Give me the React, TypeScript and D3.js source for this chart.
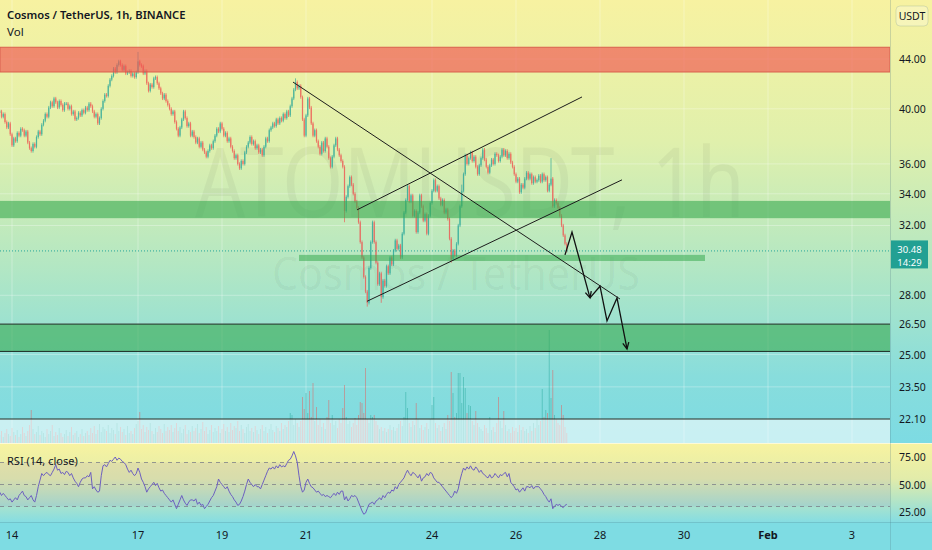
import * as d3 from "d3";

// hourly closes, first bar 2022-01-13 17:00 UTC
const closes = [
  39.8, 39.4, 39.6, 39.0, 38.6, 38.9, 38.1, 37.3, 37.8, 37.6, 38.2, 38.0, 38.5, 38.4, 38.0, 38.3, 37.5, 37.1, 36.9,
  37.4, 37.2, 37.9, 38.3, 38.1, 38.8, 39.1, 39.6, 39.4, 40.1, 40.5, 40.2, 40.8, 40.5, 40.1, 40.6, 40.3, 39.9, 40.4,
  40.4, 40.0, 40.2, 39.6, 39.8, 39.2, 39.3, 39.7, 39.5, 39.9, 39.7, 40.1, 39.9, 40.4, 40.2, 39.8, 39.4, 39.6, 38.9,
  39.3, 40.0, 40.6, 41.1, 41.0, 41.8, 42.3, 42.6, 43.2, 42.9, 43.5, 43.8, 43.5, 43.1, 43.4, 42.8, 42.9, 43.0, 42.6,
  42.8, 42.5, 42.9, 43.8, 43.5, 43.4, 42.8, 43.0, 42.0, 41.4, 41.9, 41.7, 42.4, 42.5, 42.0, 41.6, 41.2, 40.8, 41.1,
  40.6, 40.3, 40.0, 39.6, 39.8, 39.0, 38.5, 38.0, 38.6, 39.2, 39.8, 39.3, 38.7, 38.9, 38.0, 38.3, 37.9, 37.5, 37.8,
  37.2, 37.5, 37.0, 36.8, 36.5, 36.9, 37.3, 37.1, 37.6, 38.0, 38.5, 38.3, 38.9, 38.5, 38.0, 38.2, 37.6, 37.8, 37.2,
  36.9, 36.4, 36.6, 36.0, 35.7, 36.2, 36.0, 36.8, 37.2, 37.5, 37.9, 37.4, 37.6, 37.1, 37.3, 36.8, 37.0, 36.6, 37.2,
  37.8, 37.6, 38.4, 38.6, 38.9, 38.7, 39.2, 38.9, 39.3, 39.1, 39.6, 39.3, 39.8, 39.5, 40.2, 40.8, 41.5, 42.1, 41.6,
  41.8, 40.9, 39.2, 38.0, 39.5, 40.8, 40.1, 38.9, 38.0, 38.4, 37.6, 37.2, 36.7, 37.5, 36.9, 37.8, 37.2, 36.4, 35.8,
  36.5, 37.3, 37.8, 37.0, 36.6, 36.2, 35.8, 32.9, 33.8, 34.5, 35.1, 34.6, 34.0, 33.5, 33.1, 32.2, 31.0, 30.1, 29.0,
  28.2, 27.6, 29.5, 31.0, 32.2, 31.0, 29.8, 28.6, 29.2, 27.9, 28.8, 28.5, 29.6, 29.2, 30.1, 29.7, 30.5, 31.1, 30.6,
  30.8, 30.1, 31.5, 32.8, 33.6, 34.5, 33.5, 33.9, 32.6, 32.9, 31.6, 32.8, 33.9, 33.2, 32.3, 32.7, 31.5, 32.6, 33.4,
  34.2, 34.9, 34.2, 34.5, 33.7, 33.3, 33.6, 32.8, 33.0, 32.4, 31.2, 30.0, 30.5, 30.2, 30.9, 32.0, 33.2, 34.2, 35.3,
  36.6, 36.0, 36.4, 36.8, 36.2, 36.5, 35.8, 35.3, 35.9, 36.4, 37.0, 36.3, 35.8, 35.4, 35.9, 36.3, 36.0, 36.7, 36.6,
  36.2, 36.5, 37.0, 36.6, 36.9, 36.4, 36.7, 36.1, 35.8, 35.3, 34.8, 35.0, 34.1, 34.6, 34.4, 35.0, 35.4, 35.0, 35.3,
  34.7, 35.1, 34.8, 34.9, 35.2, 34.8, 35.3, 34.9, 35.1, 34.2, 34.6, 35.0, 33.2, 33.6, 33.4, 33.1, 32.6, 32.0, 31.4,
  30.9, 30.48,
];

// notable wicks beyond the bodies
const wickHighs = [
  { i: 79, price: 44.6 },
  { i: 169, price: 42.4 },
  { i: 264, price: 34.6 },
  { i: 315, price: 36.4 },
];
const wickLows = [
  { i: 197, price: 32.2 },
  { i: 210, price: 27.4 },
  { i: 218, price: 27.6 },
  { i: 258, price: 29.8 },
];

const volumes = [
  8, 12, 6, 10, 14, 9, 7, 15, 11, 8, 13, 6, 9, 16, 10, 7, 12, 18, 33, 14, 9, 11, 17, 8, 12,
  10, 6, 14, 9, 12, 18, 7, 11, 8, 15, 10, 6, 9, 13, 7, 11, 16, 8, 10, 12, 6, 9, 14, 7, 10,
  12, 8, 15, 10, 17, 9, 13, 19, 11, 16, 14, 12, 18, 10, 15, 13, 9, 20, 12, 16, 11, 14, 8, 17, 10,
  12, 9, 15, 19, 22, 31, 14, 18, 11, 16, 13, 20, 12, 9, 15, 11, 17, 14, 10, 19, 12, 16, 13, 18, 11,
  15, 20, 12, 16, 10, 14, 18, 9, 13, 11, 17, 12, 15, 19, 10, 14, 21, 12, 16, 9, 13, 18, 11, 15, 12,
  17, 10, 14, 19, 12, 16, 11, 20, 13, 17, 15, 22, 12, 18, 14, 10, 16, 19, 12, 15, 11, 17, 13, 9, 14,
  18, 12, 16, 10, 14, 19, 13, 11, 17, 15, 12, 20, 14, 18, 16, 22, 30, 28, 18, 24, 20, 16, 22, 46, 34,
  50, 30, 52, 26, 60, 22, 36, 18, 24, 16, 20, 14, 26, 43, 20, 28, 18, 22, 15, 24, 20, 35, 58, 26, 19,
  22, 16, 20, 25, 18, 28, 41, 40, 30, 75, 24, 20, 28, 26, 28, 22, 18, 14, 16, 12, 15, 11, 14, 18, 13,
  16, 12, 15, 19, 22, 17, 26, 51, 35, 20, 16, 22, 18, 40, 24, 15, 18, 13, 16, 20, 14, 24, 38, 46, 20,
  15, 18, 12, 16, 20, 14, 28, 22, 71, 50, 26, 30, 70, 70, 40, 66, 55, 30, 38, 37, 22, 18, 32, 20, 16,
  14, 12, 18, 15, 10, 26, 13, 16, 11, 20, 46, 22, 15, 32, 18, 12, 14, 10, 16, 12, 15, 11, 18, 13, 16,
  12, 14, 10, 17, 12, 20, 15, 24, 18, 22, 54, 26, 33, 30, 113, 45, 73, 28, 24, 20, 18, 38, 28, 16, 10,
];

const rsiValues = [
  43, 40, 42, 40, 38, 36, 37, 34, 36, 38, 36, 40, 42, 44, 40, 39, 36, 38, 40, 36, 34, 40, 48, 54, 60,
  58, 60, 61, 59, 58, 61, 64, 68, 63, 64, 60, 61, 59, 62, 61, 58, 60, 56, 53, 51, 48, 52, 55, 56, 56,
  58, 57, 61, 46, 48, 45, 43, 44, 58, 67, 68, 66, 69, 72, 71, 73, 75, 72, 74, 73, 71, 70, 68, 64, 61,
  63, 60, 58, 60, 65, 61, 55, 52, 48, 43, 46, 48, 50, 52, 49, 51, 47, 44, 45, 42, 40, 38, 36, 34, 36,
  32, 28, 32, 36, 40, 36, 33, 31, 34, 36, 36, 35, 37, 32, 34, 31, 32, 28, 30, 32, 35, 38, 40, 44, 48,
  55, 52, 50, 48, 46, 48, 44, 41, 39, 36, 34, 31, 32, 35, 39, 44, 50, 55, 52, 50, 48, 50, 48, 48, 46,
  50, 54, 58, 62, 65, 64, 66, 64, 67, 65, 68, 66, 67, 66, 69, 72, 73, 76, 80, 76, 70, 58, 48, 43, 45,
  52, 55, 51, 48, 47, 45, 43, 44, 42, 40, 41, 39, 40, 39, 38, 40, 42, 40, 43, 41, 44, 44, 36, 39, 35,
  37, 40, 39, 40, 38, 34, 30, 26, 23, 24, 28, 32, 33, 34, 32, 35, 36, 38, 36, 40, 38, 41, 43, 42, 45,
  44, 48, 46, 50, 52, 54, 56, 60, 63, 60, 58, 61, 60, 58, 56, 59, 53, 56, 57, 60, 58, 61, 60, 56, 54,
  52, 52, 50, 48, 46, 44, 42, 40, 38, 40, 44, 42, 46, 54, 60, 65, 63, 66, 64, 67, 64, 63, 66, 64, 61,
  63, 60, 59, 57, 56, 59, 56, 57, 60, 58, 56, 59, 58, 60, 61, 57, 60, 52, 50, 48, 45, 46, 43, 45, 47,
  44, 48, 48, 47, 49, 46, 48, 48, 48, 46, 44, 41, 39, 36, 34, 37, 28, 30, 32, 31, 32, 30, 29, 31, 32,
];

const priceTicks = [44, 40, 36, 34, 32, 28, 26.5, 25, 23.5, 22.1];
const rsiTicks = [75, 50, 25];
const rsiBands = [70, 50, 30];
const timeTicks = ["2022-01-14", "2022-01-17", "2022-01-19", "2022-01-21", "2022-01-24", "2022-01-26", "2022-01-28", "2022-01-30", "2022-02-01", "2022-02-03"];
const timeLabels = ["14", "17", "19", "21", "24", "26", "28", "30", "Feb", "3"];

const lastPrice = 30.48;
const countdown = "14:29";

// drawings (time, price)
const trendLines = [
  [["2022-01-20T16:34Z", 42.1], ["2022-01-28T11:26Z", 27.8]],
  [["2022-01-22T05:09Z", 32.97], ["2022-01-27T13:43Z", 40.92]],
  [["2022-01-22T10:51Z", 27.68], ["2022-01-28T12:34Z", 34.92]],
];
const arrowPaths = [
  [["2022-01-27T04:00Z", 30.25], ["2022-01-27T08:00Z", 31.6], ["2022-01-27T18:17Z", 27.86]],
  [["2022-01-27T18:17Z", 27.86], ["2022-01-28T00:00Z", 28.49], ["2022-01-28T04:00Z", 26.66], ["2022-01-28T09:43Z", 27.86], ["2022-01-28T15:26Z", 25.27]],
];
const levelLines = [26.5, 25.15, 22.1];
const redZone = [42.92, 45.0];
const greenZone = [32.45, 33.54];
const supportZone = [25.15, 26.5];
const thinZone = { from: "2022-01-20T20:00Z", to: "2022-01-30T12:00Z", low: 29.9, high: 30.25 };

const W = 932;
const H = 550;
const AXIS_X = 890;
const MAIN_BOTTOM = 443;
const RSI_BOTTOM = 522;
const FONT = "'Noto Sans', sans-serif";
const FIRST_BAR = Date.UTC(2022, 0, 13, 17);
const HOUR = 3600 * 1000;
const UP = "#26a69a";
const DOWN = "#ef5350";
const WICK = 1.6;

const x = d3.scaleUtc().domain([new Date("2022-01-14T00:00Z"), new Date("2022-02-03T00:00Z")]).range([12, 852]);
const y = d3.scaleLog().domain([22.1, 44]).range([419, 59]);
const yVol = d3.scaleLinear().domain([0, 113]).range([MAIN_BOTTOM, 330]);
const yRsi = d3.scaleLinear().domain([0, 100]).range([539.5, 429.5]);

const barTime = (i: number) => new Date(FIRST_BAR + i * HOUR);
const pt = (p: (string | number)[]) => [x(new Date(p[0] as string)), y(p[1] as number)] as [number, number];

function arrowHead(a: [number, number], b: [number, number]) {
  const ang = Math.atan2(b[1] - a[1], b[0] - a[0]);
  const len = 7;
  const s = (d: number) => [b[0] - len * Math.cos(ang + d), b[1] - len * Math.sin(ang + d)];
  const l = s(0.45);
  const r = s(-0.45);
  return `M${l[0]},${l[1]}L${b[0]},${b[1]}L${r[0]},${r[1]}`;
}

export default function App() {
  const rsiLine = d3
    .line<number>()
    .x((_, i) => x(barTime(i)))
    .y((v) => yRsi(v))(rsiValues) ?? "";
  const curY = y(lastPrice);

  return (
    <svg width={W} height={H} style={{ position: "fixed", left: 0, top: 0, fontFamily: FONT }}>
      <defs>
        <linearGradient id="mainBg" x1="0" y1="0" x2="0" y2={MAIN_BOTTOM} gradientUnits="userSpaceOnUse">
          <stop offset="0" stopColor="#f7f2a1" />
          <stop offset="0.32" stopColor="#e0f0ac" />
          <stop offset="0.6" stopColor="#b3e7c3" />
          <stop offset="0.85" stopColor="#88dddc" />
          <stop offset="1" stopColor="#7ddbe3" />
        </linearGradient>
        <linearGradient id="rsiBg" x1="0" y1={MAIN_BOTTOM} x2="0" y2={RSI_BOTTOM} gradientUnits="userSpaceOnUse">
          <stop offset="0" stopColor="#f8f3a0" />
          <stop offset="0.45" stopColor="#e2ecaa" />
          <stop offset="1" stopColor="#86dde2" />
        </linearGradient>
        <clipPath id="mainClip">
          <rect x={0} y={0} width={AXIS_X} height={MAIN_BOTTOM} />
        </clipPath>
        <clipPath id="rsiClip">
          <rect x={0} y={MAIN_BOTTOM} width={AXIS_X} height={RSI_BOTTOM - MAIN_BOTTOM} />
        </clipPath>
      </defs>

      <rect x={0} y={0} width={W} height={MAIN_BOTTOM} fill="url(#mainBg)" />
      <rect x={0} y={MAIN_BOTTOM} width={W} height={RSI_BOTTOM - MAIN_BOTTOM} fill="url(#rsiBg)" />
      <rect x={0} y={RSI_BOTTOM} width={W} height={H - RSI_BOTTOM} fill="#7edce3" />

      <g clipPath="url(#mainClip)">
        {priceTicks.map((p) => (
          <line key={p} x1={0} x2={AXIS_X} y1={y(p)} y2={y(p)} stroke="rgba(255,255,255,0.3)" />
        ))}
        {timeTicks.map((t) => (
          <line key={t} x1={x(new Date(t))} x2={x(new Date(t))} y1={0} y2={MAIN_BOTTOM} stroke="rgba(255,255,255,0.3)" />
        ))}

        <text x={470} y={217} textAnchor="middle" fontSize={96} textLength={550} lengthAdjust="spacingAndGlyphs" fill="rgba(0,0,0,0.045)">
          ATOMUSDT, 1h
        </text>
        <text x={456} y={290} textAnchor="middle" fontSize={46} textLength={368} lengthAdjust="spacingAndGlyphs" fill="rgba(0,0,0,0.045)">
          Cosmos / TetherUS
        </text>

        {volumes.map((v, i) => {
          const up = i === 0 || closes[i] >= closes[i - 1];
          return (
            <rect
              key={`v${i}`}
              x={x(barTime(i)) - 0.5}
              y={yVol(v)}
              width={1}
              height={MAIN_BOTTOM - yVol(v)}
              fill={up ? "rgba(38,166,154,0.45)" : "rgba(239,83,80,0.45)"}
            />
          );
        })}
        <rect x={0} y={y(22.1)} width={AXIS_X} height={MAIN_BOTTOM - y(22.1)} fill="rgba(255,255,255,0.58)" />

        {closes.map((c, i) => {
          const o = i === 0 ? c : closes[i - 1];
          const cx = x(barTime(i));
          const top = Math.min(y(o), y(c));
          const bot = Math.max(y(o), y(c));
          const hi = wickHighs.find((w) => w.i === i);
          const lo = wickLows.find((w) => w.i === i);
          const color = c >= o ? UP : DOWN;
          return (
            <g key={`c${i}`} opacity={0.8}>
              <line x1={cx} x2={cx} y1={hi ? y(hi.price) : top - WICK} y2={lo ? y(lo.price) : bot + WICK} stroke={color} strokeWidth={0.8} />
              <rect x={cx - 0.6} y={top} width={1.2} height={Math.max(1, bot - top)} fill={color} />
            </g>
          );
        })}

        <rect x={0} y={y(redZone[1])} width={AXIS_X} height={y(redZone[0]) - y(redZone[1])} fill="rgba(239,83,80,0.65)" stroke="#d9604e" strokeWidth={1} />
        <rect x={0} y={y(greenZone[1])} width={AXIS_X} height={y(greenZone[0]) - y(greenZone[1])} fill="rgba(56,170,80,0.6)" />
        <rect x={0} y={y(supportZone[1])} width={AXIS_X} height={y(supportZone[0]) - y(supportZone[1])} fill="rgba(56,170,80,0.6)" />
        <rect
          x={x(new Date(thinZone.from))}
          y={y(thinZone.high)}
          width={x(new Date(thinZone.to)) - x(new Date(thinZone.from))}
          height={y(thinZone.low) - y(thinZone.high)}
          fill="rgba(56,170,80,0.55)"
        />
        {levelLines.map((p) => (
          <line key={p} x1={0} x2={AXIS_X} y1={y(p)} y2={y(p)} stroke="#1b2a22" strokeWidth={1} />
        ))}

        <line x1={0} x2={AXIS_X} y1={curY} y2={curY} stroke={UP} strokeDasharray="1 2" />

        {trendLines.map((ln, k) => {
          const a = pt(ln[0]);
          const b = pt(ln[1]);
          return <line key={k} x1={a[0]} y1={a[1]} x2={b[0]} y2={b[1]} stroke="#1c1c1c" strokeWidth={1} />;
        })}
        {arrowPaths.map((pts, k) => {
          const p = pts.map(pt);
          const d = d3.line()(p) ?? "";
          return (
            <g key={k} fill="none" stroke="#111" strokeWidth={1.3}>
              <path d={d} />
              <path d={arrowHead(p[p.length - 2], p[p.length - 1])} />
            </g>
          );
        })}
      </g>

      <text x={7} y={19} fontSize={11.2} fontWeight={600} fill="#131722">
        Cosmos / TetherUS, 1h, BINANCE
      </text>
      <text x={7} y={36} fontSize={11.5} fill="#131722">
        Vol
      </text>

      {/* RSI pane */}
      <g clipPath="url(#rsiClip)">
        <rect x={0} y={yRsi(70)} width={AXIS_X} height={yRsi(30) - yRsi(70)} fill="rgba(126,87,194,0.1)" />
        {rsiBands.map((b) => (
          <line key={b} x1={0} x2={AXIS_X} y1={yRsi(b)} y2={yRsi(b)} stroke="rgba(120,123,134,0.75)" strokeDasharray="4 4" />
        ))}
        <path d={rsiLine} fill="none" stroke="#6d5fc0" strokeWidth={1} />
      </g>
      <text x={7} y={465} fontSize={11} fill="#131722">
        RSI (14, close)
      </text>

      {/* separators */}
      <line x1={0} x2={W} y1={MAIN_BOTTOM + 0.5} y2={MAIN_BOTTOM + 0.5} stroke="rgba(255,255,255,0.6)" />
      <line x1={0} x2={W} y1={RSI_BOTTOM + 0.5} y2={RSI_BOTTOM + 0.5} stroke="rgba(80,120,130,0.25)" />
      <line x1={AXIS_X + 0.5} x2={AXIS_X + 0.5} y1={0} y2={H} stroke="rgba(80,120,130,0.25)" />

      {/* price axis */}
      <rect x={896} y={6} width={32} height={20} rx={4} fill="rgba(255,255,255,0.25)" stroke="rgba(80,120,130,0.2)" />
      <text x={912} y={20} textAnchor="middle" fontSize={10.5} fill="#131722">
        USDT
      </text>
      {priceTicks.map((p) => (
        <text key={p} x={899} y={y(p) + 4} fontSize={10.5} fill="#131722">
          {p.toFixed(2)}
        </text>
      ))}
      <rect x={891} y={curY - 10.5} width={37} height={28} fill="#22a093" />
      <text x={909.5} y={curY + 2} textAnchor="middle" fontSize={9.5} fill="#fff">
        {lastPrice.toFixed(2)}
      </text>
      <text x={909.5} y={curY + 15} textAnchor="middle" fontSize={9.5} fill="#fff">
        {countdown}
      </text>
      {rsiTicks.map((t) => (
        <text key={t} x={899} y={yRsi(t) + 4} fontSize={10.5} fill="#131722">
          {t.toFixed(2)}
        </text>
      ))}

      {/* time axis */}
      {timeTicks.map((t, i) => (
        <text
          key={t}
          x={x(new Date(t))}
          y={539}
          textAnchor="middle"
          fontSize={11}
          fontWeight={timeLabels[i] === "Feb" ? 700 : 400}
          fill="#131722"
        >
          {timeLabels[i]}
        </text>
      ))}
    </svg>
  );
}
